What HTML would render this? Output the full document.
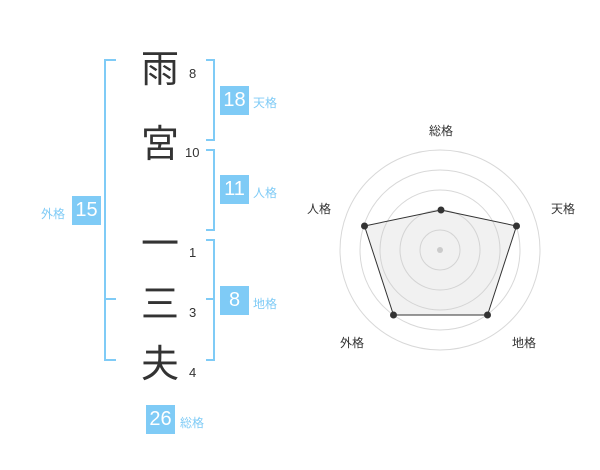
<!DOCTYPE html><html><head><meta charset="utf-8"><style>
body{margin:0;width:600px;height:470px;background:#fff;position:relative;overflow:hidden;font-family:"Liberation Sans","Noto Sans CJK JP",sans-serif}
.k{position:absolute;font-size:38px;color:#333;width:50px;text-align:center;line-height:40px;left:135px}
.n{position:absolute;font-size:13px;color:#333;line-height:14px}
.b{position:absolute;background:#7fcbf6;color:#fff;font-size:20px;width:29px;height:29px;line-height:29px;text-align:center}
.l{position:absolute;font-size:12px;color:#7fcbf6;line-height:14px}
</style></head><body>
<svg width="600" height="470" style="position:absolute;left:0;top:0">
<g fill="none" stroke="#7fcbf6" stroke-width="2">
<path d="M116 60H105V360H116M105 299H116"/>
<path d="M206 60H214V140H206"/>
<path d="M206 150H214V230H206"/>
<path d="M206 240H214V360H206M206 299H214"/>
</g>
<g fill="none" stroke="#d8d8d8" stroke-width="1">
<circle cx="440" cy="250" r="20"/><circle cx="440" cy="250" r="40"/><circle cx="440" cy="250" r="60"/><circle cx="440" cy="250" r="80"/><circle cx="440" cy="250" r="100"/>
</g>
<circle cx="440" cy="250" r="3" fill="#ccc"/>
<polygon points="441,210 516.5,226 487.5,315 393.5,315 364.5,226" fill="rgba(200,200,200,0.25)" stroke="#333" stroke-width="1"/>
<g fill="#333"><circle cx="441" cy="210" r="3.5"/><circle cx="516.5" cy="226" r="3.5"/><circle cx="487.5" cy="315" r="3.5"/><circle cx="393.5" cy="315" r="3.5"/><circle cx="364.5" cy="226" r="3.5"/></g>
<g font-size="12" fill="#333" font-family="Liberation Sans,Noto Sans CJK JP,sans-serif" text-anchor="middle">
<text x="441" y="135">総格</text><text x="563" y="213">天格</text><text x="524" y="347">地格</text><text x="352" y="347">外格</text><text x="319" y="213">人格</text>
</g>
</svg>
<div class="k" style="top:50px">雨</div>
<div class="k" style="top:125px">宮</div>
<div class="k" style="top:225px">一</div>
<div class="k" style="top:285px">三</div>
<div class="k" style="top:345px">夫</div>
<div class="n" style="left:189px;top:67px">8</div>
<div class="n" style="left:185px;top:146px">10</div>
<div class="n" style="left:189px;top:246px">1</div>
<div class="n" style="left:189px;top:306px">3</div>
<div class="n" style="left:189px;top:366px">4</div>
<div class="b" style="left:220px;top:86px">18</div><div class="l" style="left:253px;top:96px">天格</div>
<div class="b" style="left:220px;top:175px">11</div><div class="l" style="left:253px;top:186px">人格</div>
<div class="b" style="left:220px;top:286px">8</div><div class="l" style="left:253px;top:297px">地格</div>
<div class="b" style="left:72px;top:196px">15</div><div class="l" style="left:41px;top:207px">外格</div>
<div class="b" style="left:146px;top:405px">26</div><div class="l" style="left:180px;top:416px">総格</div>
</body></html>
